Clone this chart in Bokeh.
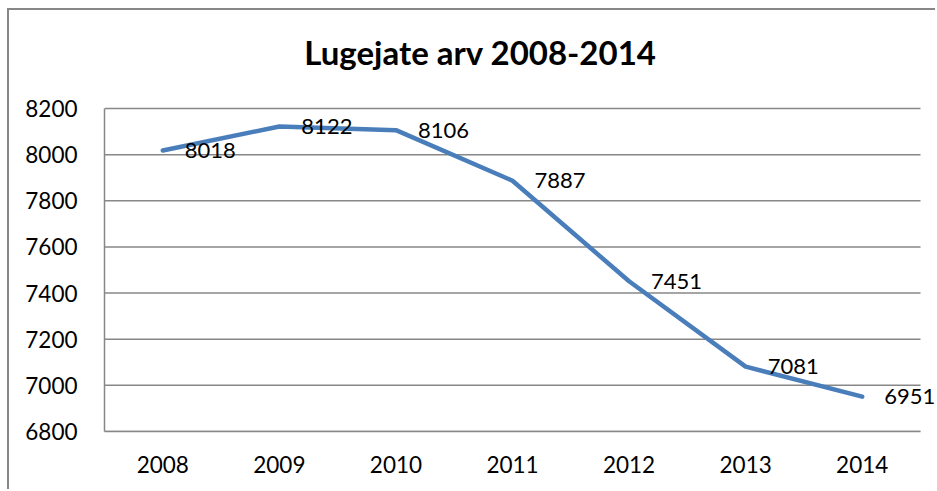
from bokeh.plotting import figure
from bokeh.models import Range1d, FixedTicker, ColumnDataSource, Label
from bokeh.core.properties import value
from bokeh.embed import file_html
from bokeh.resources import INLINE

years = ["2008", "2009", "2010", "2011", "2012", "2013", "2014"]
readers = [8018, 8122, 8106, 7887, 7451, 7081, 6951]
y_ticks = [6800, 7000, 7200, 7400, 7600, 7800, 8000, 8200]
title_text = "Lugejate arv 2008-2014"

FONT = "Lato"
GRAY = "#878787"

# layout (pixels)
PLOT_H = 323      # height of the 6800..8200 band
TOP_PAD = 98      # space above the 8200 line (holds the title)
RIGHT_PAD = 17    # space right of the last category (holds the last label)
CAT_W = 116.6

n = len(years)
xpos = [i + 0.5 for i in range(n)]
src = ColumnDataSource(dict(x=xpos, y=readers, lab=[str(v) for v in readers]))

y0, y1 = y_ticks[0], y_ticks[-1]
y_top = y1 + TOP_PAD * (y1 - y0) / PLOT_H

p = figure(width=928, height=481, x_range=Range1d(0, n + RIGHT_PAD / CAT_W),
           y_range=Range1d(y0, y_top), output_backend="svg",
           toolbar_location=None, min_border_left=95, min_border_right=0,
           min_border_top=0, min_border_bottom=60)
p.styles = {"margin-left": "7px", "margin-top": "8px",
            "border-left": f"2px solid {GRAY}", "border-top": f"2px solid {GRAY}"}
p.outline_line_color = None
p.background_fill_color = "white"
p.border_fill_color = "white"

p.xgrid.grid_line_color = None
p.ygrid.grid_line_color = None
p.segment(x0=0, x1=n, y0=y_ticks, y1=y_ticks, line_color=GRAY, line_width=1.5)

p.xaxis.ticker = FixedTicker(ticks=xpos)
p.xaxis.major_label_overrides = {x: y for x, y in zip(xpos, years)}
p.xaxis.bounds = (0, n)
p.yaxis.ticker = FixedTicker(ticks=y_ticks)
p.yaxis.bounds = (y0, y1)

for ax in (p.xaxis, p.yaxis):
    ax.axis_line_color = GRAY
    ax.axis_line_width = 1.5
    ax.major_tick_line_color = None
    ax.minor_tick_line_color = None
    ax.major_tick_out = 0
    ax.major_tick_in = 0
    ax.major_label_text_font = FONT
    ax.major_label_text_font_size = "22.5px"
    ax.major_label_text_color = "black"
p.yaxis.major_label_standoff = 27
p.xaxis.major_label_standoff = 24

p.line("x", "y", source=src, line_color="#4A7EBB", line_width=4.5,
       line_join="round", line_cap="round")
p.text("x", "y", text="lab", source=src, x_offset=22, text_baseline="middle",
       text_align="left", text_font=value(FONT), text_font_size="22px",
       text_color="black")

p.add_layout(Label(x=376, y=380, x_units="screen", y_units="screen",
                   text=title_text, text_align="center", text_baseline="alphabetic",
                   text_font=FONT, text_font_size="33px", text_font_style="bold",
                   text_color="black"))

open("out.html", "w").write(file_html(p, INLINE))
